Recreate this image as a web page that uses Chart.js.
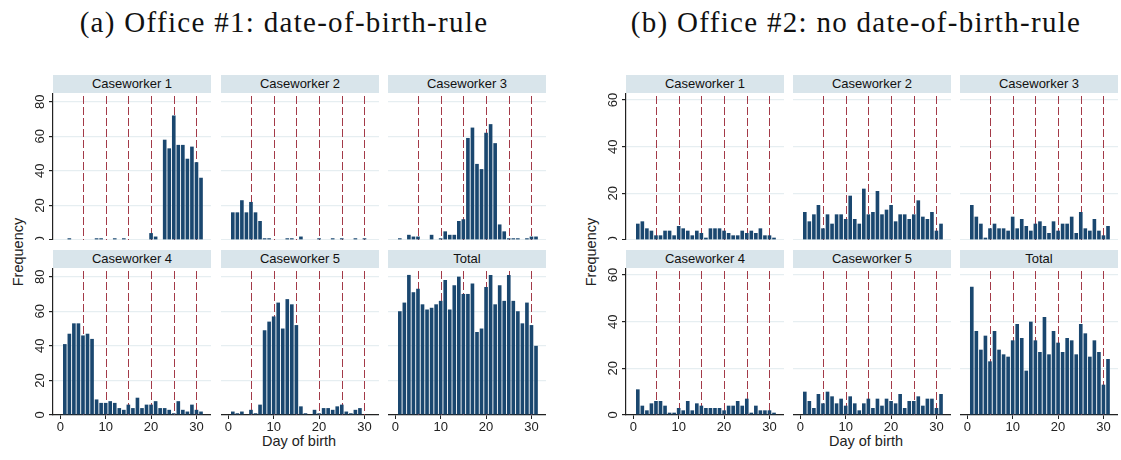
<!DOCTYPE html>
<html>
<head>
<meta charset="utf-8">
<script src="https://cdn.jsdelivr.net/npm/chart.js@4.4.0/dist/chart.umd.min.js"></script>
<style>
  body { margin: 0; width: 1121px; height: 460px; background: #fff; position: relative; overflow: hidden;
         font-family: "Liberation Sans", Arial, sans-serif; color: #222; }
  .title { position: absolute; top: 6px; transform: translateX(-50%); white-space: nowrap;
           font-family: "Liberation Serif", "Times New Roman", serif; font-size: 29px; letter-spacing: 1.3px; color: #111; }
  .strip { position: absolute; height: 18px; line-height: 18px; background: #d9e5eb; text-align: center;
           font-size: 13px; color: #111; }
  .axtitle { position: absolute; font-size: 14.5px; white-space: nowrap; transform: translate(-50%, -50%); }
  .rot { transform: translate(-50%, -50%) rotate(-90deg); }
</style>
</head>
<body>
<div class="title" style="left:284px">(a) Office #1: date-of-birth-rule</div>
<div class="title" style="left:856px">(b) Office #2: no date-of-birth-rule</div>
<div class="axtitle rot" style="left:18px;top:252px">Frequency</div>
<div class="axtitle rot" style="left:591px;top:252px">Frequency</div>
<div class="axtitle" style="left:299px;top:441px">Day of birth</div>
<div class="axtitle" style="left:866px;top:441px">Day of birth</div>
<script>
// day of birth categories and the reference lines
const days = [1,2,3,4,5,6,7,8,9,10,11,12,13,14,15,16,17,18,19,20,21,22,23,24,25,26,27,28,29,30,31];
const refDays = [5, 10, 15, 20, 25, 30];
const panelNames = ['Caseworker 1', 'Caseworker 2', 'Caseworker 3', 'Caseworker 4', 'Caseworker 5', 'Total'];

// Office #1 (date-of-birth rule)
const o1cw1 = [0,1,0,0,0,0,0,1,1,0,0,1,0,1,0,0,0,0,0,4,2,0,58,53,72,55,55,47,54,45,36];
const o1cw2 = [16,16,23,16,22,16,11,1,1,0,0,0,1,1,0,2,0,0,0,1,0,0,1,0,1,0,0,1,0,1,0];
const o1cw3 = [1,0,3,2,2,0,0,3,0,1,5,3,3,11,12,59,65,44,41,62,67,56,9,5,1,1,1,0,1,2,2];
const o1cw4 = [41,47,53,53,46,47,44,9,7,7,8,7,4,3,6,4,10,4,6,6,8,4,4,3,1,8,3,2,6,3,2];
const o1cw5 = [2,1,2,0,3,1,6,49,54,57,65,50,67,64,52,5,1,0,3,1,4,4,3,5,6,2,1,3,4,0,0];
const o1total = [60,65,81,71,73,64,61,62,64,66,78,61,75,80,70,70,76,48,50,74,81,64,75,66,81,66,60,53,65,52,40];

// Office #2 (no date-of-birth rule)
const o2cw1 = [7,8,5,4,2,2,4,4,2,6,5,4,2,4,3,1,5,5,5,4,3,2,2,4,3,4,3,5,2,2,1];
const o2cw2 = [12,8,11,15,5,11,7,11,11,9,19,9,7,22,11,12,21,11,13,15,8,11,11,9,11,17,10,9,12,4,7];
const o2cw3 = [15,10,7,1,5,7,5,5,4,10,5,9,6,4,7,8,6,3,8,4,7,7,10,3,12,5,4,9,4,2,6];
const o2cw4 = [11,4,2,5,6,6,4,1,1,3,2,6,2,5,4,3,3,3,3,2,4,4,6,4,7,1,4,2,2,2,1];
const o2cw5 = [10,6,3,9,5,10,8,5,7,4,8,5,2,5,7,3,7,4,7,6,5,9,3,6,6,8,4,7,7,3,9];
const o2total = [55,36,28,34,23,36,28,26,25,32,39,33,19,40,32,27,42,26,36,31,27,33,32,26,39,35,25,32,27,13,24];

const BAR = '#1a476f';
const REF = '#a33a48';
const GRID = '#e6eef1';
const AXIS = '#222';

// layout of the small multiples
const plotW = 158, plotH = 147;
const rowTop = [93, 268];
const stripTop = [75, 250];
const figs = [
  { colX: [53, 221, 388], yMax: 85, series: [o1cw1, o1cw2, o1cw3, o1cw4, o1cw5, o1total] },
  { colX: [626, 793, 960], yMax: 63, series: [o2cw1, o2cw2, o2cw3, o2cw4, o2cw5, o2total] }
];

const refLines = {
  id: 'refLines',
  beforeDatasetsDraw(chart) {
    const { ctx, chartArea, scales } = chart;
    ctx.save();
    ctx.strokeStyle = REF;
    ctx.lineWidth = 1;
    ctx.setLineDash([8, 3]);
    refDays.forEach(d => {
      const x = Math.round(scales.x.getPixelForValue(d)) + 0.5;
      ctx.beginPath();
      ctx.moveTo(x, chartArea.top + 3);
      ctx.lineTo(x, chartArea.bottom);
      ctx.stroke();
    });
    ctx.restore();
  }
};

// stata style vertical tick labels on the y axis
const yLabels = {
  id: 'yLabels',
  afterDraw(chart, args, opts) {
    if (!opts.show) return;
    const { ctx, chartArea, scales } = chart;
    ctx.save();
    ctx.fillStyle = AXIS;
    ctx.font = '13px "Liberation Sans", Arial, sans-serif';
    ctx.textAlign = 'center';
    ctx.textBaseline = 'middle';
    scales.y.ticks.forEach(t => {
      const y = scales.y.getPixelForValue(t.value);
      ctx.save();
      ctx.translate(chartArea.left - 13, y);
      ctx.rotate(-Math.PI / 2);
      ctx.fillText(String(t.value), 0, 0);
      ctx.restore();
    });
    ctx.restore();
  }
};

function makePanel(fig, idx) {
  const col = idx % 3, row = Math.floor(idx / 3);
  const L = col === 0 ? 30 : 0;
  const B = row === 1 ? 22 : 0;
  const w = plotW + L, h = plotH + B;

  const strip = document.createElement('div');
  strip.className = 'strip';
  strip.style.left = fig.colX[col] + 'px';
  strip.style.top = stripTop[row] + 'px';
  strip.style.width = plotW + 'px';
  strip.textContent = panelNames[idx];
  document.body.appendChild(strip);

  const canvas = document.createElement('canvas');
  canvas.width = w;
  canvas.height = h;
  canvas.style.cssText = `position:absolute;left:${fig.colX[col] - L}px;top:${rowTop[row]}px;width:${w}px;height:${h}px`;
  document.body.appendChild(canvas);

  const values = fig.series[idx];
  new Chart(canvas, {
    type: 'bar',
    data: {
      datasets: [{
        data: days.map((d, i) => ({ x: d, y: values[i] })),
        backgroundColor: BAR,
        borderWidth: 0,
        barPercentage: 0.8,
        categoryPercentage: 1
      }]
    },
    options: {
      responsive: false,
      animation: false,
      events: [],
      layout: { padding: 0 },
      plugins: {
        legend: { display: false },
        tooltip: { enabled: false },
        yLabels: { show: col === 0 }
      },
      scales: {
        x: {
          type: 'linear',
          min: -1.6,
          max: 33.2,
          offset: false,
          display: row === 1,
          ticks: { stepSize: 10, includeBounds: false, color: AXIS, maxRotation: 0, padding: 1,
                   font: { family: '"Liberation Sans", Arial, sans-serif', size: 13 } },
          grid: { offset: false, drawOnChartArea: false, drawTicks: true, tickLength: 4, tickColor: AXIS },
          border: { display: true, color: AXIS, width: 1.2 },
          afterFit: s => { s.height = B; }
        },
        y: {
          min: 0,
          max: fig.yMax,
          ticks: { stepSize: 20, includeBounds: false, display: false },
          grid: { color: GRID, lineWidth: 1.2, drawTicks: col === 0, tickLength: 4, tickColor: AXIS },
          border: { display: col === 0, color: AXIS, width: 1.2 },
          afterFit: s => { s.width = L; }
        }
      }
    },
    plugins: [refLines, yLabels]
  });
}

figs.forEach(fig => {
  for (let i = 0; i < 6; i++) makePanel(fig, i);
});
</script>
</body>
</html>
